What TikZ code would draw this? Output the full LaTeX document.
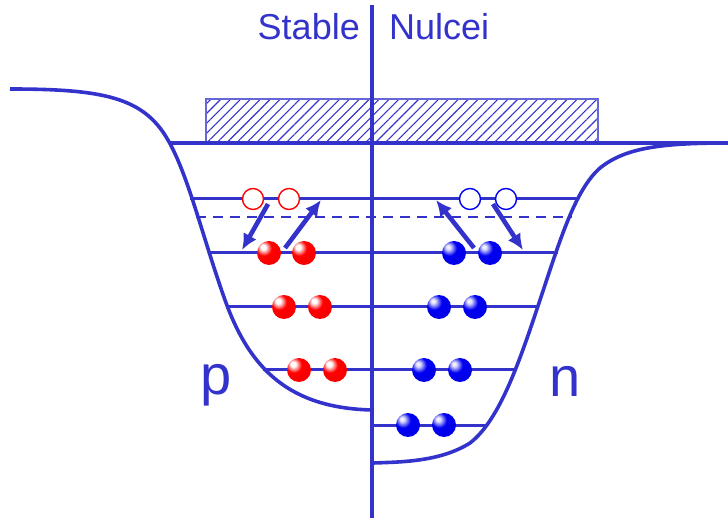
\documentclass[tikz,border=0pt]{standalone}
\usepackage{fontspec}
\setmainfont{Liberation Sans}
\usetikzlibrary{arrows.meta,patterns.meta}
\definecolor{well}{RGB}{51,51,204}
\definecolor{prot}{RGB}{255,0,0}
\definecolor{neut}{RGB}{0,0,240}
\pgfdeclareradialshading{pshade}{\pgfpoint{-13bp}{13bp}}{color(0bp)=(white); color(5bp)=(white); color(16bp)=(prot); color(55bp)=(prot!92!black); color(80bp)=(prot!92!black)}
\pgfdeclareradialshading{nshade}{\pgfpoint{-13bp}{13bp}}{color(0bp)=(white); color(5bp)=(white!85!neut); color(16bp)=(neut); color(55bp)=(neut!92!black); color(80bp)=(neut!92!black)}

\begin{document}
\begin{tikzpicture}[x=1pt,y=-1pt,
  wall/.style={well, line width=3.6pt},
  level/.style={well, line width=3pt},
  pball/.style={circle, inner sep=0pt, minimum size=24pt, shade, shading=pshade},
  nball/.style={circle, inner sep=0pt, minimum size=24pt, shade, shading=nshade},
  phole/.style={circle, inner sep=0pt, minimum size=21pt, draw=prot, fill=white, line width=1.4pt},
  nhole/.style={circle, inner sep=0pt, minimum size=21pt, draw=neut, fill=white, line width=1.4pt},
  jump/.style={well, line width=4.6pt, -{Latex[length=16pt,width=15pt]}},
  lbl/.style={well, inner sep=0pt}]
  \useasboundingbox (0,0) rectangle (728,518);
  % hatched block on top of the well
  \fill[pattern={Lines[angle=45,distance=7pt,line width=1.1pt]}, pattern color=well]
    (206,99) rectangle (598,143);
  \draw[well!75, line width=1.4pt] (206,143) -- (206,99) -- (598,99) -- (598,143);
  \draw[wall] (170,143) -- (728,143);
  \draw[wall] (372,5) -- (372,518);
  % proton side
  \draw[wall] (10,89) .. controls (95,89) and (135,96) .. (160,128)
    .. controls (185,160) and (200,230) .. (225,300)
    .. controls (250,370) and (290,408) .. (372,410);
  % neutron side
  \draw[wall] (728,143) .. controls (660,143) and (625,148) .. (600,168)
    .. controls (575,190) and (560,240) .. (540,300)
    .. controls (520,360) and (500,420) .. (470,443)
    .. controls (440,462) and (400,462) .. (373,463);
  % levels
  \draw[level] (190,199) -- (579,199);
  \draw[well, line width=2.6pt, dash pattern=on 10pt off 7pt] (196,217) -- (572,217);
  \draw[level] (209,253) -- (558,253);
  \draw[level] (228,307) -- (538,307);
  \draw[level] (263,370) -- (517,370);
  \draw[level] (372,425) -- (487,425);
  % empty states
  \node[phole] (ph1) at (253,199) {};
  \node[phole] (ph2) at (289,199) {};
  \node[nhole] (nh1) at (470,199) {};
  \node[nhole] (nh2) at (506,199) {};
  % filled states
  \foreach \x/\y/\nm in {269/253/pa1, 304/253/pa2, 284/307/pb1, 320/307/pb2,
                         299/370/pc1, 335/370/pc2}
    \node[pball] (\nm) at (\x,\y) {};
  \foreach \x/\y/\nm in {454/253/na1, 490/253/na2, 439/307/nb1, 475/307/nb2,
                         424/370/nc1, 460/370/nc2, 408/425/nd1, 444/425/nd2}
    \node[nball] (\nm) at (\x,\y) {};
  % pairing jumps
  \coordinate (pdn0) at (268,204);
  \coordinate (pdn1) at (242,250);
  \coordinate (pup0) at (285,248);
  \coordinate (pup1) at (321,200);
  \coordinate (nup0) at (474,248);
  \coordinate (nup1) at (436,200);
  \coordinate (ndn0) at (493,204);
  \coordinate (ndn1) at (523,250);
  \draw[jump] (pdn0) -- (pdn1);
  \draw[jump] (pup0) -- (pup1);
  \draw[jump] (nup0) -- (nup1);
  \draw[jump] (ndn0) -- (ndn1);
  % labels
  \node[lbl, anchor=base east, font=\fontsize{36}{40}\selectfont] (stab) at (360,40) {Stable};
  \node[lbl, anchor=base west, font=\fontsize{36}{40}\selectfont] (nucl) at (389,40) {Nulcei};
  \node[lbl, anchor=base, font=\fontsize{56}{60}\selectfont] (plab) at (216,395) {p};
  \node[lbl, anchor=base, font=\fontsize{56}{60}\selectfont] (nlab) at (565,396) {n};
\end{tikzpicture}
\end{document}
